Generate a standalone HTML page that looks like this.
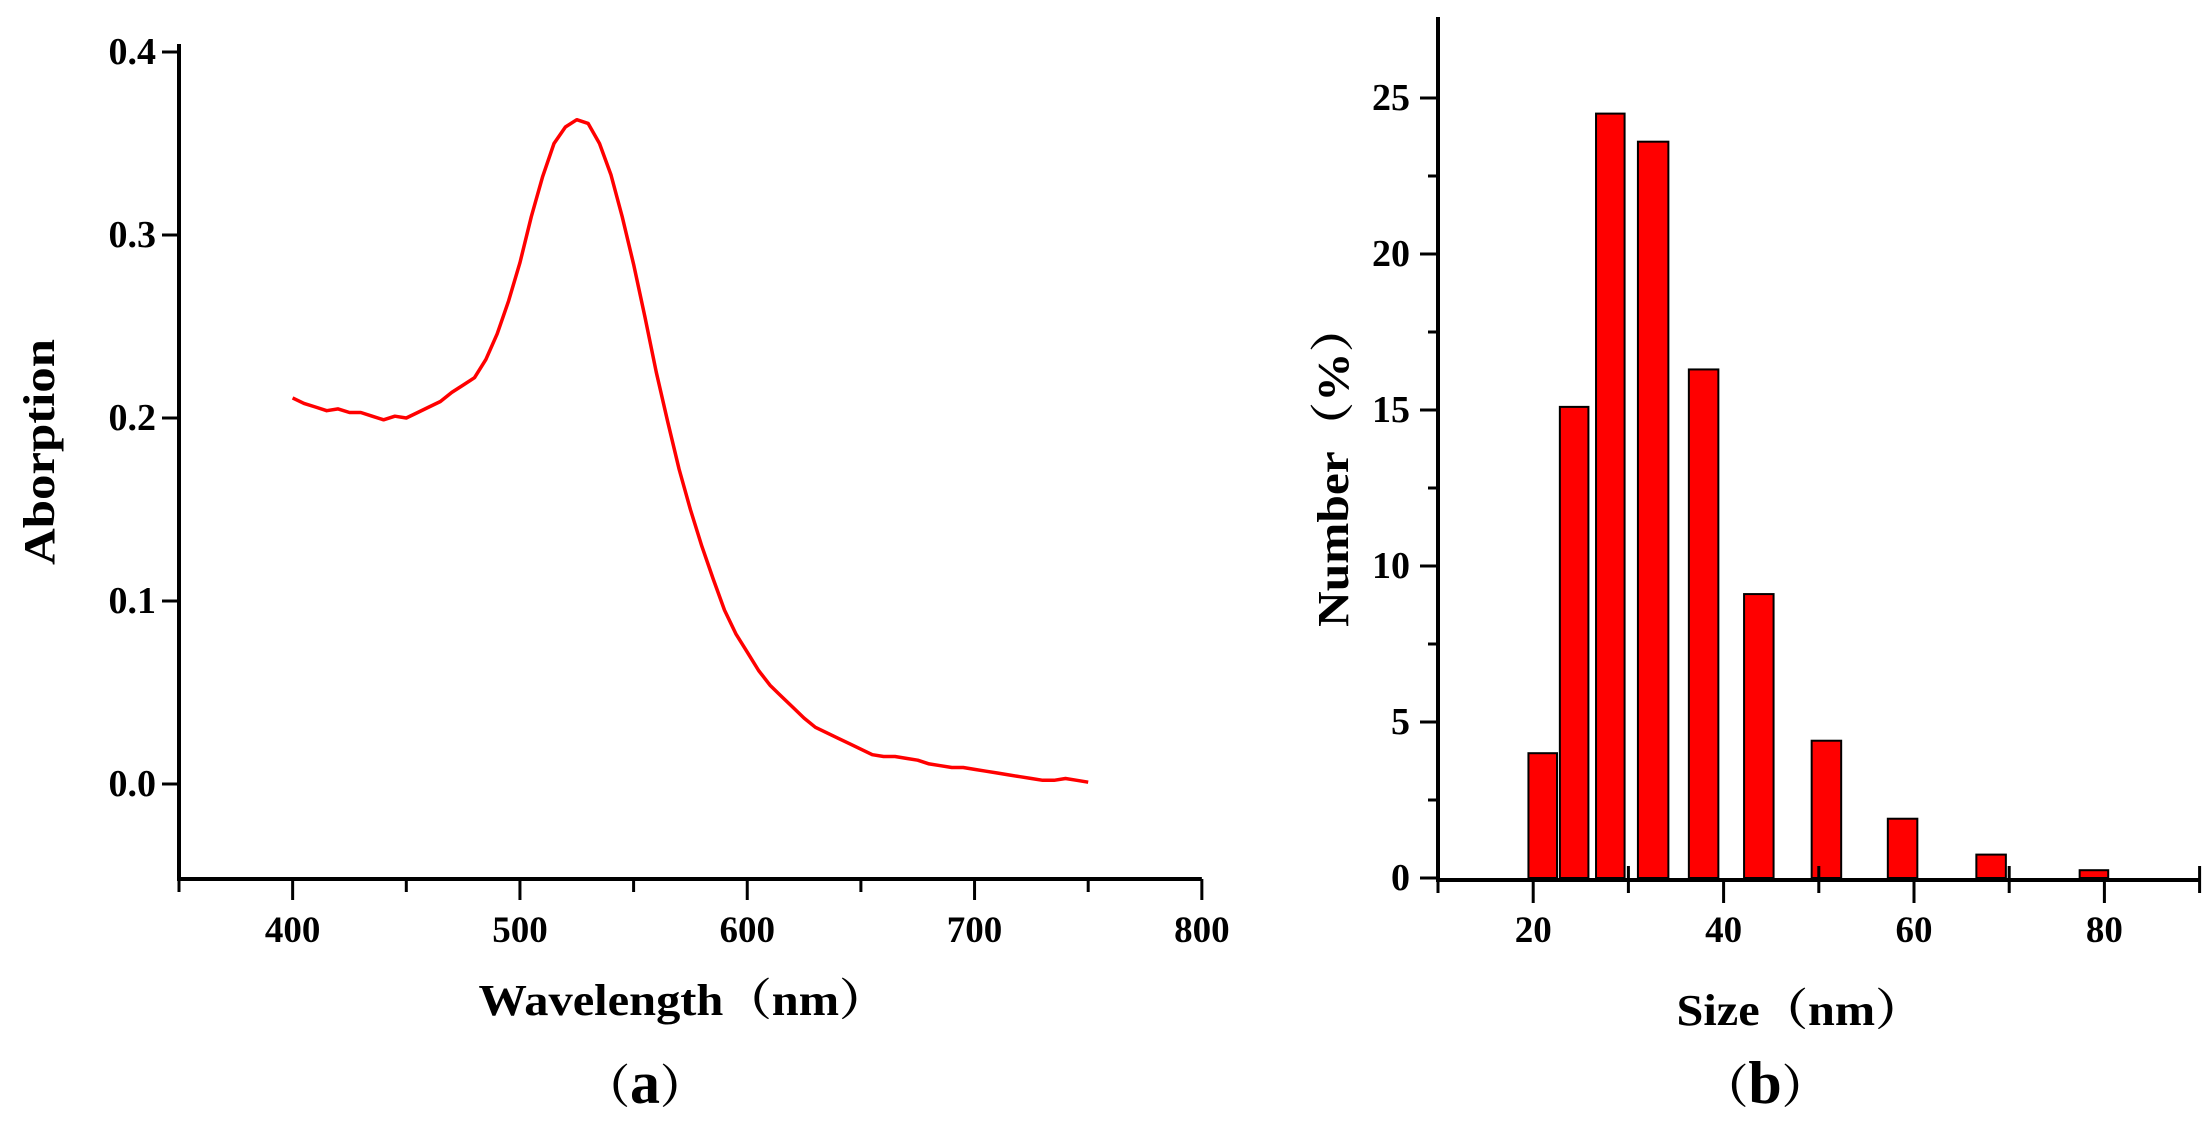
<!DOCTYPE html>
<html><head><meta charset="utf-8"><style>
html,body{margin:0;padding:0;background:#fff;}
svg{display:block;}
text{font-family:"Liberation Serif","Noto Serif CJK SC",serif;font-weight:bold;fill:#000;}
</style></head><body>
<svg id="fig" width="2210" height="1124" viewBox="0 0 2210 1124">
<g id="chartA"></g>
<g id="chartB"></g>
</svg>
<script>
// ---- Chart (a) data ----
const wavelengths = [400,405,410,415,420,425,430,435,440,445,450,455,460,465,470,475,480,485,490,495,500,505,510,515,520,525,530,535,540,545,550,555,560,565,570,575,580,585,590,595,600,605,610,615,620,625,630,635,640,645,650,655,660,665,670,675,680,685,690,695,700,705,710,715,720,725,730,735,740,745,750];
const absorbance = [0.211,0.208,0.206,0.204,0.205,0.203,0.203,0.201,0.199,0.201,0.200,0.203,0.206,0.209,0.214,0.218,0.222,0.232,0.246,0.264,0.285,0.310,0.332,0.350,0.359,0.363,0.361,0.350,0.333,0.310,0.284,0.255,0.225,0.198,0.172,0.150,0.130,0.112,0.095,0.082,0.072,0.062,0.054,0.048,0.042,0.036,0.031,0.028,0.025,0.022,0.019,0.016,0.015,0.015,0.014,0.013,0.011,0.010,0.009,0.009,0.008,0.007,0.006,0.005,0.004,0.003,0.002,0.002,0.003,0.002,0.001];
const xTicksA = [400,500,600,700,800];
const xMinorA = [350,450,550,650,750];
const yTicksA = [0.0,0.1,0.2,0.3,0.4];
const yLabelsA = ["0.0","0.1","0.2","0.3","0.4"];
// ---- Chart (b) data ----
const binCenters = [21,24.3,28.1,32.6,37.9,43.7,50.8,58.8,68.1,78.9];
const binWidths = [3,3,3,3.2,3.1,3.1,3.1,3.1,3.1,3];
const numberPct = [4.0,15.1,24.5,23.6,16.3,9.1,4.4,1.9,0.75,0.25];
const xTicksB = [20,40,60,80];
const xMinorB = [10,30,50,70,90];
const yTicksB = [0,5,10,15,20,25];
const yMinorB = [2.5,7.5,12.5,17.5,22.5];

const NS = "http://www.w3.org/2000/svg";
function mk(tag, attrs, parent){const e=document.createElementNS(NS,tag);for(const k in attrs)e.setAttribute(k,attrs[k]);parent.appendChild(e);return e;}

// axes (a)
const xA = v => 179 + (v-350)*2.273;
const yA = v => 784 - v*1830;
const gA = document.getElementById('chartA');
let ax = mk('path',{d:`M${xA(350)} 44 L${xA(350)} ${879} L${xA(800)} 879`,stroke:'#000','stroke-width':4,fill:'none'},gA);


xTicksA.forEach(v=>{
  const t=mk('line',{x1:xA(v),x2:xA(v),y1:879,y2:900,stroke:'#000','stroke-width':3},gA);
  
  
  const l=mk('text',{x:xA(v),y:942,'text-anchor':'middle','font-size':37},gA);
  l.textContent=String(v);
  
  
});
xMinorA.forEach(v=>{
  const t=mk('line',{x1:xA(v),x2:xA(v),y1:879,y2:892,stroke:'#000','stroke-width':3},gA);
  
  
});
yTicksA.forEach((v,i)=>{
  const t=mk('line',{x1:162,x2:179,y1:yA(v),y2:yA(v),stroke:'#000','stroke-width':3},gA);
  
  
  const l=mk('text',{x:156,y:yA(v)+12,'text-anchor':'end','font-size':38},gA);
  l.textContent=yLabelsA[i];
  
  
});
let pts = wavelengths.map((w,i)=>`${xA(w).toFixed(1)},${yA(absorbance[i]).toFixed(1)}`).join(' ');
let line = mk('polyline',{points:pts,fill:'none',stroke:'#ff0000','stroke-width':3.5,'stroke-linejoin':'round'},gA);


let yt = mk('text',{transform:'translate(54,452) rotate(-90)','text-anchor':'middle','font-size':44,textLength:226,lengthAdjust:'spacingAndGlyphs'},gA);
yt.textContent='Aborption';


let xt = mk('text',{x:683,y:1015,'text-anchor':'middle','font-size':44,textLength:409,lengthAdjust:'spacingAndGlyphs'},gA);
xt.textContent='Wavelength（nm）';


let pa = mk('text',{x:645,y:1103,'text-anchor':'middle','font-size':60},gA);
pa.innerHTML='<tspan font-size="46">（</tspan>a<tspan font-size="46">）</tspan>';



// axes (b)
const xB = v => 1438 + (v-10)*9.52;
const yB = v => 878 - v*31.2;
const gB = document.getElementById('chartB');
binCenters.forEach((c,i)=>{
  const w=binWidths[i];
  const r=mk('rect',{x:xB(c-w/2),y:yB(numberPct[i]),width:xB(c+w/2)-xB(c-w/2),height:yB(0)-yB(numberPct[i]),fill:'#ff0000',stroke:'#000','stroke-width':2},gB);
  
  
});
let bx = mk('path',{d:`M${xB(10)} 17 L${xB(10)} 880 L${xB(90)} 880`,stroke:'#000','stroke-width':4,fill:'none'},gB);


xTicksB.forEach(v=>{
  const t=mk('line',{x1:xB(v),x2:xB(v),y1:880,y2:903,stroke:'#000','stroke-width':3},gB);
  
  
  const l=mk('text',{x:xB(v),y:942,'text-anchor':'middle','font-size':37},gB);
  l.textContent=String(v);
  
  
});
xMinorB.forEach(v=>{
  const t=mk('line',{x1:xB(v),x2:xB(v),y1:866,y2:893,stroke:'#000','stroke-width':3},gB);
  
  
});
yTicksB.forEach(v=>{
  const t=mk('line',{x1:1420,x2:1438,y1:yB(v),y2:yB(v),stroke:'#000','stroke-width':3},gB);
  
  
  const l=mk('text',{x:1410,y:yB(v)+12,'text-anchor':'end','font-size':38},gB);
  l.textContent=String(v);
  
  
});
yMinorB.forEach(v=>{
  const t=mk('line',{x1:1428,x2:1438,y1:yB(v),y2:yB(v),stroke:'#000','stroke-width':3},gB);
  
  
});
let yt2 = mk('text',{transform:'translate(1348,465) rotate(-90)','text-anchor':'middle','font-size':44,textLength:324,lengthAdjust:'spacingAndGlyphs'},gB);
yt2.textContent='Number（%）';


let xt2 = mk('text',{x:1800,y:1025,'text-anchor':'middle','font-size':44,textLength:247,lengthAdjust:'spacingAndGlyphs'},gB);
xt2.textContent='Size（nm）';


let pb = mk('text',{x:1765,y:1103,'text-anchor':'middle','font-size':60},gB);
pb.innerHTML='<tspan font-size="46">（</tspan>b<tspan font-size="46">）</tspan>';


</script>
</body></html>
